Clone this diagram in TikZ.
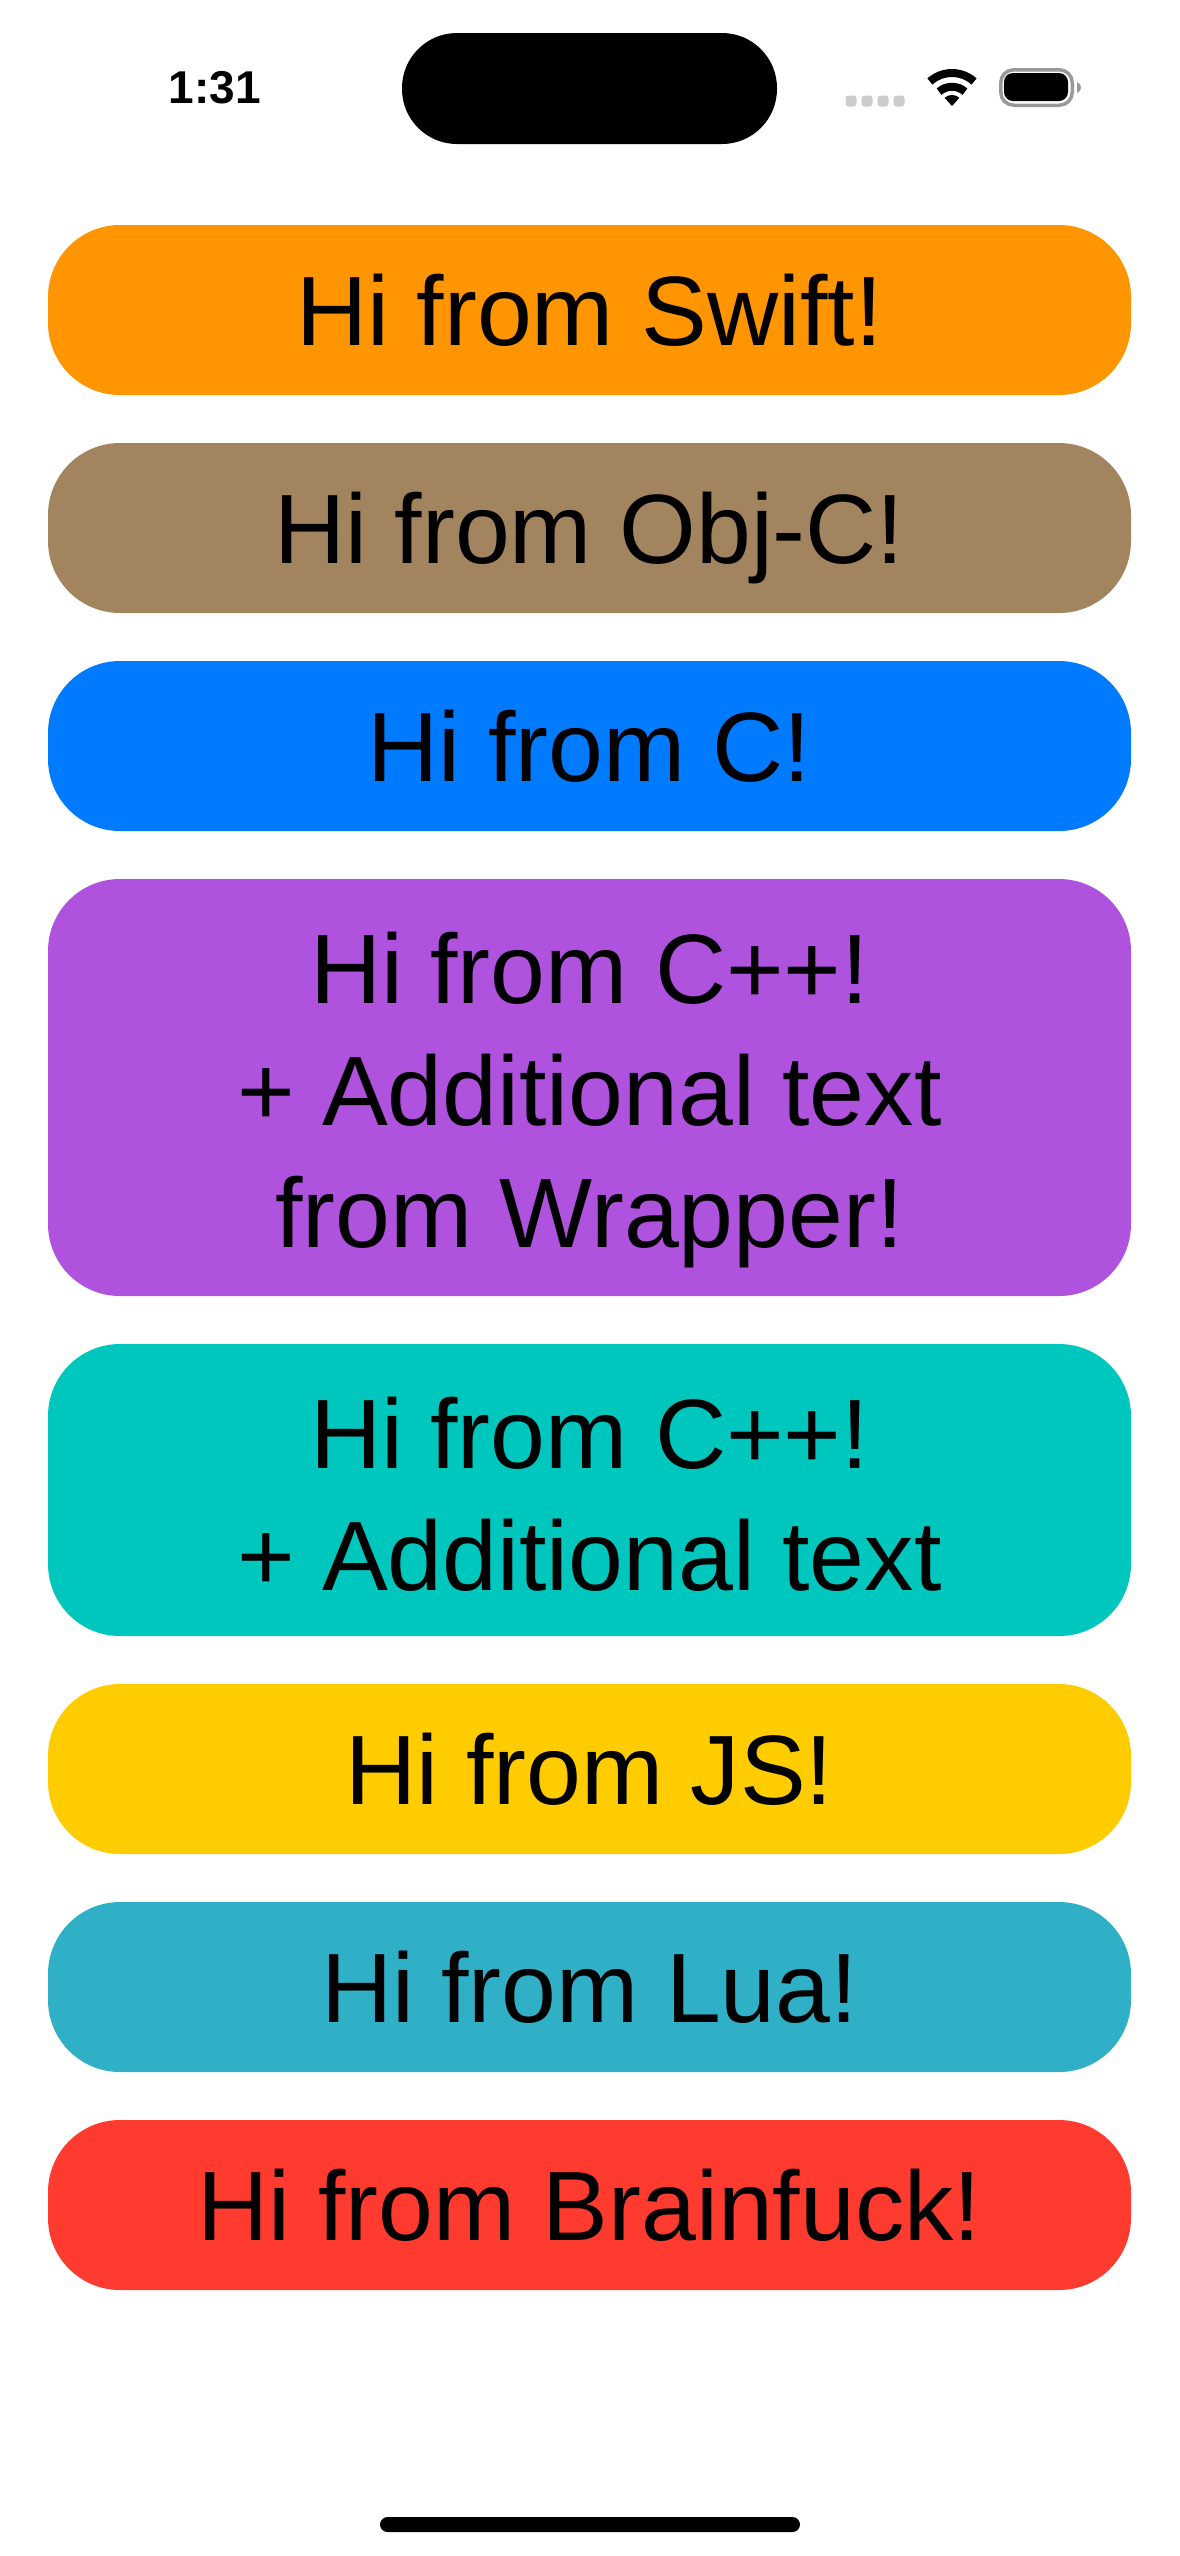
\documentclass[tikz,border=0pt]{standalone}
\usepackage{fontspec}
\setmainfont{Liberation Sans}
\usepackage{tikz}
\definecolor{naranja}{HTML}{FF9500}
\definecolor{marron}{HTML}{A2845E}
\definecolor{azul}{HTML}{007AFF}
\definecolor{morado}{HTML}{AF52DE}
\definecolor{turquesa}{HTML}{00C7BE}
\definecolor{amarillo}{HTML}{FFCC00}
\definecolor{cian}{HTML}{30B0C7}
\definecolor{rojo}{HTML}{FF3B30}
\definecolor{tenue}{HTML}{CCCCCC}
\definecolor{borde}{HTML}{999999}
\tikzset{
  pastilla/.style={rectangle,rounded corners=36pt,minimum width=541.5pt,inner sep=0pt,align=center,text=black,text height=46.5pt,text depth=11pt,font=\fontsize{49.3}{61}\selectfont},
  hora/.style={inner sep=0pt,text=black,font=\fontsize{23}{30}\selectfont\bfseries},
  puntito/.style={rectangle,fill=tenue,rounded corners=1.5pt,inner sep=0pt,minimum width=5.5pt,minimum height=5.5pt},
}

\begin{document}
\begin{tikzpicture}[x=0.5pt,y=-0.5pt]
  \useasboundingbox (0,0) rectangle (1179,2556);
  % barra de estado
  \node[hora] (hora) at (215,87.5) {1:31};
  \fill[black,rounded corners=27.5pt] (402,33) rectangle (777,144);
  \node[puntito] (p1) at (851,101) {}; \node[puntito] (p2) at (867,101) {};
  \node[puntito] (p3) at (883,101) {}; \node[puntito] (p4) at (899,101) {};
  % wifi
  \fill[black] (952,106) -- (944.6,97.8) arc[start angle=-132,end angle=-48,radius=11] -- cycle;
  \draw[black,line width=4pt] (939.1,91.7) arc[start angle=-132,end angle=-48,radius=19.3];
  \draw[black,line width=4pt] (929.9,81.5) arc[start angle=-132,end angle=-48,radius=33];
  % bateria
  \draw[borde,line width=1.75pt,rounded corners=6.5pt] (1000.75,69.75) rectangle (1072.25,105.25);
  \fill[black,rounded corners=4.5pt] (1004,73) rectangle (1068,101);
  \fill[borde] (1077,82) .. controls (1080,84) and (1081,85) .. (1081,87.5) .. controls (1081,90) and (1080,91) .. (1077,93) -- cycle;
  % pastillas
  \node[pastilla,fill=naranja,minimum height=85pt] (swift) at (589.5,310) {Hi from Swift!};
  \node[pastilla,fill=marron,minimum height=85pt] (objc) at (589.5,528) {Hi from Obj-C!};
  \node[pastilla,fill=azul,minimum height=85pt] (cplano) at (589.5,746) {Hi from C!};
  \node[pastilla,fill=morado,minimum height=208.5pt,text height=170.5pt] (wrapper) at (589.5,1087.5) {Hi from C++!\\+ Additional text\\from Wrapper!};
  \node[pastilla,fill=turquesa,minimum height=146pt,text height=111.5pt] (cpp) at (589.5,1490) {Hi from C++!\\+ Additional text};
  \node[pastilla,fill=amarillo,minimum height=85pt] (js) at (589.5,1769) {Hi from JS!};
  \node[pastilla,fill=cian,minimum height=85pt] (lua) at (589.5,1987) {Hi from Lua!};
  \node[pastilla,fill=rojo,minimum height=85pt] (brainfuck) at (589.5,2205) {Hi from Brainfuck!};
  % barra inferior
  \fill[black,rounded corners=3.75pt] (380,2517) rectangle (800,2532);
\end{tikzpicture}
\end{document}
